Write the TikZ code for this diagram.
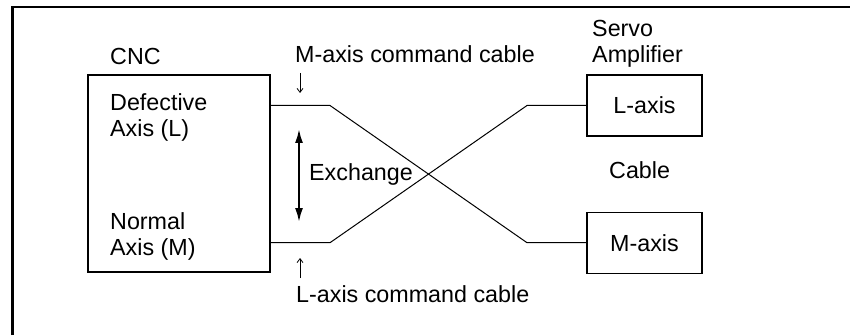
\documentclass[tikz,border=0pt]{standalone}
\usepackage{fontspec}
\setmainfont{Liberation Sans}
\usetikzlibrary{positioning,arrows.meta,calc}

\begin{document}
\begin{tikzpicture}[x=1pt,y=1pt,>=Stealth,
  font=\fontsize{23.3}{26}\selectfont,
  box/.style={draw,line width=1.2pt,inner sep=0pt},
  amp/.style={box,minimum width=115pt,minimum height=61pt},
  lbl/.style={inner sep=0pt,align=left},
  cable/.style={line width=1pt},
  tick/.style={->,>={Straight Barb[length=4pt,width=6pt]},line width=0.8pt}]
  \useasboundingbox (0,0) rectangle (850,335);
  % frame, only top and left edge show
  \draw[line width=2.5pt] (12.5,0) -- (12.5,328) -- (850,328);
  % CNC side
  \node[box,minimum width=182pt,minimum height=197pt] (cnc) at (179,161.5) {};
  \node[lbl,anchor=base west] (cnctxt) at (110,270) {CNC};
  \node[lbl,anchor=north west] (defl) at (110,242) {Defective\\Axis (L)};
  \node[lbl,anchor=north west] (norm) at (110,123) {Normal\\Axis (M)};
  % servo amplifier side
  \node[amp] (lax) at (644.5,229.5) {L-axis};
  \node[amp,below=75pt of lax] (max) {M-axis};
  \node[lbl,anchor=north west] (servo) at (592,315) {Servo\\Amplifier};
  \node[lbl,anchor=base west] (cabtxt) at (609,157) {Cable};
  % cables, kinks at x=330 and x=527
  \coordinate (kl) at (330,0);
  \coordinate (kr) at (527,0);
  \draw[cable] (cnc.east |- lax.west) -- (kl |- lax.west) -- (kr |- max.west) -- (max.west);
  \draw[cable] (cnc.east |- max.west) -- (kl |- max.west) -- (kr |- lax.west) -- (lax.west);
  % cable names
  \node[lbl,anchor=base west] (mcmd) at (295,272) {M-axis command cable};
  \node[lbl,anchor=base west] (lcmd) at (296,33) {L-axis command cable};
  \draw[tick] ($(mcmd.base west)+(5,-10)$) -- ++(0,-20);
  \draw[tick] ($(lcmd.base west)+(4,24)$) -- ++(0,20);
  % exchange
  \node[lbl,anchor=base west] (exch) at (309,155) {Exchange};
  \draw[<->,line width=2pt,>={Latex[length=14pt,width=8pt]}]
    ($(exch.base west)+(-10,51)$) -- ($(exch.base west)+(-10,-42)$);
\end{tikzpicture}
\end{document}
